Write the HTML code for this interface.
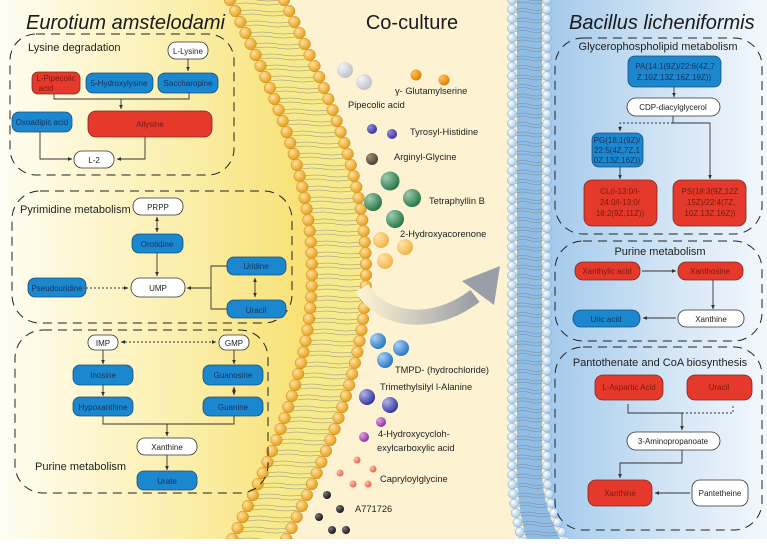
<!DOCTYPE html>
<html><head><meta charset="utf-8">
<style>
html,body{margin:0;padding:0;background:#fff;}
svg{display:block;font-family:"Liberation Sans",Arial,sans-serif;}
.bl{fill:#1a87cf;stroke:#1d4f78;stroke-width:0.8}
.rd{fill:#e5392c;stroke:#7c2a22;stroke-width:0.8}
.wh{fill:#fff;stroke:#333;stroke-width:0.8}
.tb{fill:#17325a;font-size:8px;text-anchor:middle}
.tr{fill:#7a1810;font-size:8px;text-anchor:middle}
.tw{fill:#222;font-size:8px;text-anchor:middle}
.ln{fill:none;stroke:#333;stroke-width:0.9}
.dl{fill:none;stroke:#333;stroke-width:0.9;stroke-dasharray:2 2}
.db{fill:none;stroke:#222;stroke-width:1;stroke-dasharray:9 6}
.lab{fill:#222;font-size:9.3px}
.sec{fill:#222;font-size:11px}
</style></head><body>
<svg id="s" width="767" height="544" viewBox="0 0 767 544" xmlns="http://www.w3.org/2000/svg">
<defs>
<linearGradient id="gl" x1="0" x2="1" y1="0" y2="0">
<stop offset="0" stop-color="#fffdf3"/><stop offset="0.55" stop-color="#fbf0b0"/><stop offset="1" stop-color="#f7e070"/></linearGradient>
<linearGradient id="gr" x1="0" x2="1" y1="0" y2="0">
<stop offset="0" stop-color="#a3c9ec"/><stop offset="0.6" stop-color="#d6e7f6"/><stop offset="1" stop-color="#f3f8fd"/></linearGradient>
<radialGradient id="ob" cx="0.35" cy="0.35" r="0.7"><stop offset="0" stop-color="#ffe2a0"/><stop offset="1" stop-color="#e59a14"/></radialGradient>
<radialGradient id="bb" cx="0.35" cy="0.35" r="0.7"><stop offset="0" stop-color="#ffffff"/><stop offset="1" stop-color="#9fc6ea"/></radialGradient>
<radialGradient id="g1" cx="0.3" cy="0.3" r="0.8"><stop offset="0" stop-color="#f4f5f7"/><stop offset="1" stop-color="#b9bcc4"/></radialGradient>
<radialGradient id="g2" cx="0.3" cy="0.3" r="0.8"><stop offset="0" stop-color="#ffc15a"/><stop offset="1" stop-color="#e07a00"/></radialGradient>
<radialGradient id="g3" cx="0.3" cy="0.3" r="0.8"><stop offset="0" stop-color="#8c8ad8"/><stop offset="1" stop-color="#3a2f9a"/></radialGradient>
<radialGradient id="g4" cx="0.3" cy="0.3" r="0.8"><stop offset="0" stop-color="#a08c78"/><stop offset="1" stop-color="#4a3a2c"/></radialGradient>
<radialGradient id="g5" cx="0.3" cy="0.3" r="0.8"><stop offset="0" stop-color="#9cccb0"/><stop offset="1" stop-color="#1f7040"/></radialGradient>
<radialGradient id="g6" cx="0.3" cy="0.3" r="0.8"><stop offset="0" stop-color="#ffe4a8"/><stop offset="1" stop-color="#f0b040"/></radialGradient>
<radialGradient id="g7" cx="0.3" cy="0.3" r="0.8"><stop offset="0" stop-color="#a8d0f4"/><stop offset="1" stop-color="#2070c0"/></radialGradient>
<radialGradient id="g8" cx="0.3" cy="0.3" r="0.8"><stop offset="0" stop-color="#b0b4f0"/><stop offset="1" stop-color="#2a2a90"/></radialGradient>
<radialGradient id="g9" cx="0.3" cy="0.3" r="0.8"><stop offset="0" stop-color="#e0a0e8"/><stop offset="1" stop-color="#8a2a9a"/></radialGradient>
<radialGradient id="g10" cx="0.3" cy="0.3" r="0.8"><stop offset="0" stop-color="#ffc0b0"/><stop offset="1" stop-color="#e85a40"/></radialGradient>
<radialGradient id="g11" cx="0.3" cy="0.3" r="0.8"><stop offset="0" stop-color="#777"/><stop offset="1" stop-color="#111"/></radialGradient>
<linearGradient id="ag" x1="0" x2="1" y1="0" y2="0"><stop offset="0" stop-color="#fdf3d3"/><stop offset="1" stop-color="#9a9ea6"/></linearGradient>
<marker id="a" viewBox="0 0 6 6" refX="5.5" refY="3" markerWidth="5" markerHeight="5" orient="auto-start-reverse"><path d="M0,0.5 L6,3 L0,5.5z" fill="#333"/></marker>
</defs>
<rect width="767" height="544" fill="#fdf3d3"/>
<path id="leftbg" d="" fill="url(#gl)"/>
<path id="memL" d="" fill="#f7ea8c"/>
<path id="rightbg" d="" fill="url(#gr)"/>
<path id="memR" d="" fill="#8fbde6"/>
<g id="beads"></g>
<rect y="539" width="767" height="5" fill="#fff"/>

<path d="M362,288 C380,320 430,330 475,296" fill="none" stroke="url(#ag)" stroke-width="15"/>
<path d="M462,281 L500,266 L494,305z" fill="#9a9ea6"/>

<text x="26" y="29" font-size="20" font-style="italic" fill="#1a1a1a">Eurotium amstelodami</text>
<text x="412" y="29" font-size="20" text-anchor="middle" fill="#1a1a1a">Co-culture</text>
<text x="569" y="29" font-size="20" font-style="italic" fill="#1a1a1a">Bacillus licheniformis</text>

<rect class="db" x="10" y="34" width="224" height="141" rx="26"/>
<text class="sec" x="28" y="51">Lysine degradation</text>
<rect class="wh" x="168" y="42" width="40" height="17" rx="8"/><text class="tw" x="188" y="54">L-Lysine</text>
<line class="ln" x1="188" y1="59" x2="188" y2="71" marker-end="url(#a)"/>
<rect class="rd" x="32" y="72" width="48" height="22" rx="6"/><text class="tr" x="56" y="81">L-Pipecolic</text><text class="tr" x="46" y="91">acid</text>
<rect class="bl" x="86" y="73" width="67" height="20" rx="7"/><text class="tb" x="119" y="86">5-Hydroxylysine</text>
<rect class="bl" x="158" y="73" width="60" height="20" rx="7"/><text class="tb" x="188" y="86">Saccharopine</text>
<path class="ln" d="M54,94 V99 H189 V93"/><line class="ln" x1="121" y1="99" x2="121" y2="109" marker-end="url(#a)"/>
<rect class="bl" x="12" y="112" width="60" height="20" rx="7"/><text class="tb" x="42" y="125">Oxoadipic acid</text>
<rect class="rd" x="88" y="111" width="124" height="26" rx="8"/><text class="tr" x="150" y="127" font-size="10">Allysine</text>
<rect class="wh" x="74" y="151" width="40" height="17" rx="8"/><text class="tw" x="94" y="163">L-2</text>
<path class="ln" d="M40,132 V159 H72" marker-end="url(#a)"/>
<path class="ln" d="M145,137 V159 H117" marker-end="url(#a)"/>

<rect class="db" x="12" y="191" width="280" height="132" rx="28"/>
<text class="sec" x="20" y="213">Pyrimidine metabolism</text>
<rect class="wh" x="133" y="198" width="50" height="17" rx="8"/><text class="tw" x="158" y="210">PRPP</text>
<line class="ln" x1="157" y1="217" x2="157" y2="232" marker-end="url(#a)" marker-start="url(#a)"/>
<rect class="bl" x="132" y="234" width="51" height="19" rx="7"/><text class="tb" x="157" y="247">Orotidine</text>
<line class="ln" x1="157" y1="253" x2="157" y2="276" marker-end="url(#a)"/>
<rect class="bl" x="227" y="257" width="59" height="18" rx="7"/><text class="tb" x="256" y="269">Uridine</text>
<rect class="bl" x="28" y="278" width="58" height="19" rx="7"/><text class="tb" x="57" y="291">Pseudouridine</text>
<rect class="wh" x="131" y="278" width="54" height="19" rx="9"/><text class="tw" x="158" y="291">UMP</text>
<rect class="bl" x="227" y="300" width="59" height="18" rx="7"/><text class="tb" x="256" y="313">Uracil</text>
<line class="dl" x1="86" y1="288" x2="128" y2="288" marker-end="url(#a)"/>
<path class="ln" d="M227,266 H211 V309 H227 M211,288 H188" />
<line class="ln" x1="188" y1="288" x2="187" y2="288" marker-end="url(#a)"/>
<line class="ln" x1="255" y1="278" x2="255" y2="297" marker-end="url(#a)" marker-start="url(#a)"/>

<rect class="db" x="15" y="330" width="253" height="163" rx="28"/>
<rect class="wh" x="88" y="335" width="30" height="15" rx="7"/><text class="tw" x="103" y="346">IMP</text>
<rect class="wh" x="219" y="335" width="30" height="15" rx="7"/><text class="tw" x="234" y="346">GMP</text>
<line class="dl" x1="121" y1="342" x2="216" y2="342" marker-end="url(#a)" marker-start="url(#a)"/>
<line class="ln" x1="103" y1="350" x2="103" y2="364" marker-end="url(#a)"/>
<line class="ln" x1="234" y1="350" x2="234" y2="364" marker-end="url(#a)"/>
<rect class="bl" x="73" y="365" width="60" height="20" rx="7"/><text class="tb" x="103" y="378">Inosine</text>
<rect class="bl" x="203" y="365" width="60" height="20" rx="7"/><text class="tb" x="233" y="378">Guanosine</text>
<line class="ln" x1="103" y1="385" x2="103" y2="396" marker-end="url(#a)"/>
<line class="ln" x1="234" y1="387" x2="234" y2="395" marker-end="url(#a)" marker-start="url(#a)"/>
<rect class="bl" x="73" y="397" width="60" height="19" rx="7"/><text class="tb" x="103" y="410">Hypoxanthine</text>
<rect class="bl" x="203" y="397" width="60" height="19" rx="7"/><text class="tb" x="233" y="410">Guanine</text>
<path class="ln" d="M103,416 V424 H234 V416"/>
<line class="ln" x1="167" y1="424" x2="167" y2="436" marker-end="url(#a)"/>
<rect class="wh" x="137" y="438" width="60" height="17" rx="8"/><text class="tw" x="167" y="450">Xanthine</text>
<line class="ln" x1="167" y1="455" x2="167" y2="470" marker-end="url(#a)"/>
<rect class="bl" x="137" y="471" width="60" height="19" rx="7"/><text class="tb" x="167" y="484">Urate</text>
<text class="sec" x="35" y="470">Purine metabolism</text>

<circle cx="345" cy="70" r="8" fill="url(#g1)"/><circle cx="364" cy="82" r="8" fill="url(#g1)"/>
<circle cx="416" cy="75" r="5.5" fill="url(#g2)"/><circle cx="444" cy="80" r="5.5" fill="url(#g2)"/>
<text class="lab" x="395" y="94">γ- Glutamylserine</text>
<text class="lab" x="348" y="108">Pipecolic acid</text>
<circle cx="372" cy="129" r="5" fill="url(#g3)"/><circle cx="392" cy="134" r="5" fill="url(#g3)"/>
<text class="lab" x="410" y="135">Tyrosyl-Histidine</text>
<circle cx="372" cy="159" r="6" fill="url(#g4)"/>
<text class="lab" x="394" y="160">Arginyl-Glycine</text>
<circle cx="390" cy="181" r="9.5" fill="url(#g5)"/><circle cx="373" cy="202" r="9" fill="url(#g5)"/><circle cx="412" cy="198" r="9" fill="url(#g5)"/><circle cx="395" cy="219" r="9" fill="url(#g5)"/>
<text class="lab" x="429" y="204">Tetraphyllin B</text>
<circle cx="381" cy="240" r="8" fill="url(#g6)"/><circle cx="405" cy="247" r="8" fill="url(#g6)"/><circle cx="385" cy="261" r="8" fill="url(#g6)"/>
<text class="lab" x="400" y="237">2-Hydroxyacorenone</text>
<circle cx="378" cy="341" r="8" fill="url(#g7)"/><circle cx="401" cy="348" r="8" fill="url(#g7)"/><circle cx="385" cy="360" r="8" fill="url(#g7)"/>
<text class="lab" x="395" y="373">TMPD- (hydrochloride)</text>
<text class="lab" x="380" y="390">Trimethylsilyl l-Alanine</text>
<circle cx="367" cy="397" r="8" fill="url(#g8)"/><circle cx="390" cy="405" r="8" fill="url(#g8)"/>
<circle cx="381" cy="422" r="5" fill="url(#g9)"/><circle cx="364" cy="437" r="5" fill="url(#g9)"/>
<text class="lab" x="378" y="437">4-Hydroxycycloh-</text>
<text class="lab" x="377" y="451">exylcarboxylic acid</text>
<circle cx="357" cy="460" r="3.5" fill="url(#g10)"/><circle cx="340" cy="473" r="3.5" fill="url(#g10)"/><circle cx="373" cy="469" r="3.5" fill="url(#g10)"/><circle cx="353" cy="484" r="3.5" fill="url(#g10)"/><circle cx="368" cy="484" r="3.5" fill="url(#g10)"/>
<text class="lab" x="380" y="482">Capryloylglycine</text>
<circle cx="327" cy="495" r="4" fill="url(#g11)"/><circle cx="340" cy="509" r="4" fill="url(#g11)"/><circle cx="319" cy="517" r="4" fill="url(#g11)"/><circle cx="332" cy="530" r="4" fill="url(#g11)"/><circle cx="346" cy="530" r="4" fill="url(#g11)"/>
<text class="lab" x="355" y="512">A771726</text>

<rect class="db" x="555" y="38" width="207" height="196" rx="28"/>
<text class="sec" x="658" y="50" text-anchor="middle">Glycerophospholipid metabolism</text>
<rect class="bl" x="628" y="56" width="93" height="31" rx="7"/><text class="tb" x="675" y="69">PA(14:1(9Z)/22:6(4Z,7</text><text class="tb" x="674" y="80">Z,10Z,13Z,16Z,19Z))</text>
<line class="ln" x1="674" y1="87" x2="674" y2="97" marker-end="url(#a)"/>
<rect class="wh" x="627" y="98" width="93" height="18" rx="9"/><text class="tw" x="673" y="110">CDP-diacylglycerol</text>
<path class="ln" d="M673,116 V123 H710 V179" marker-end="url(#a)"/>
<path class="dl" d="M673,123 H620 V131" marker-end="url(#a)"/>
<rect class="bl" x="592" y="133" width="51" height="34" rx="7"/><text class="tb" x="617" y="143">PG(18:1(9Z)/</text><text class="tb" x="617" y="153">22:5(4Z,7Z,1</text><text class="tb" x="617" y="163">0Z,13Z,16Z))</text>
<line class="ln" x1="620" y1="167" x2="620" y2="179" marker-end="url(#a)"/>
<rect class="rd" x="584" y="180" width="73" height="46" rx="8"/><text class="tr" x="620" y="194">CL(i-13:0/i-</text><text class="tr" x="620" y="205">24:0/i-13:0/</text><text class="tr" x="620" y="216">18:2(9Z,11Z))</text>
<rect class="rd" x="673" y="180" width="73" height="46" rx="8"/><text class="tr" x="710" y="194">PS(18:3(9Z,12Z</text><text class="tr" x="710" y="205">,15Z)/22:4(7Z,</text><text class="tr" x="710" y="216">10Z,13Z,16Z))</text>

<rect class="db" x="555" y="241" width="207" height="100" rx="28"/>
<text class="sec" x="660" y="255" text-anchor="middle">Purine metabolism</text>
<rect class="rd" x="575" y="262" width="65" height="18" rx="8"/><text class="tr" x="607" y="274">Xanthylic acid</text>
<rect class="rd" x="678" y="262" width="65" height="18" rx="8"/><text class="tr" x="710" y="274">Xanthosine</text>
<line class="ln" x1="642" y1="271" x2="676" y2="271" marker-end="url(#a)"/>
<line class="ln" x1="713" y1="280" x2="713" y2="309" marker-end="url(#a)"/>
<rect class="wh" x="678" y="310" width="66" height="17" rx="8"/><text class="tw" x="711" y="322">Xanthine</text>
<rect class="bl" x="573" y="310" width="67" height="17" rx="8"/><text class="tb" x="606" y="322">Uric acid</text>
<line class="ln" x1="676" y1="318" x2="643" y2="318" marker-end="url(#a)"/>

<rect class="db" x="555" y="347" width="207" height="183" rx="28"/>
<text class="sec" x="660" y="366" text-anchor="middle">Pantothenate and CoA biosynthesis</text>
<rect class="rd" x="595" y="375" width="68" height="25" rx="8"/><text class="tr" x="629" y="390">L-Aspartic Acid</text>
<rect class="rd" x="687" y="375" width="65" height="25" rx="8"/><text class="tr" x="719" y="390">Uracil</text>
<path class="ln" d="M628,404 V413 H682"/><path class="dl" d="M682,413 H733 V404"/>
<line class="ln" x1="682" y1="413" x2="682" y2="430" marker-end="url(#a)"/>
<rect class="wh" x="627" y="432" width="93" height="18" rx="9"/><text class="tw" x="673" y="444">3-Aminopropanoate</text>
<path class="ln" d="M682,450 V463 H620 V478" marker-end="url(#a)"/>
<rect class="rd" x="588" y="480" width="64" height="26" rx="8"/><text class="tr" x="620" y="496">Xanthine</text>
<rect class="wh" x="692" y="480" width="56" height="26" rx="8"/><text class="tw" x="720" y="496">Pantetheine</text>
<line class="ln" x1="690" y1="493" x2="655" y2="493" marker-end="url(#a)"/>
</svg>
<script>
(function(){
var NS="http://www.w3.org/2000/svg";
function xi(y){return 230+82*Math.sin(Math.PI*y/544);}
function xo(y){return xi(y)+54;}
var d="M0,0 ";
for(var y=0;y<=544;y+=8)d+="L"+xi(y).toFixed(1)+","+y+" ";
d+="L0,544Z";document.getElementById("leftbg").setAttribute("d",d);
var m="M"+xi(0)+",0 ";
for(y=0;y<=544;y+=8)m+="L"+xi(y).toFixed(1)+","+y+" ";
for(y=544;y>=0;y-=8)m+="L"+xo(y).toFixed(1)+","+y+" ";
m+="Z";document.getElementById("memL").setAttribute("d",m);
function ro(y){return y<470?512:512+ (y-470)*(y-470)/500;}
function ri(y){return y<470?547:547+(y-470)*(y-470)/260;}
var r="M"+ri(0)+",0 ";
for(y=0;y<=544;y+=8)r+="L"+ri(y).toFixed(1)+","+y+" ";
r+="L767,544 L767,0Z";document.getElementById("rightbg").setAttribute("d",r);
var mr="M"+(ro(0)+5)+",0 ";
for(y=0;y<=544;y+=8)mr+="L"+(ro(y)+5).toFixed(1)+","+y+" ";
for(y=544;y>=0;y-=8)mr+="L"+(ri(y)-5).toFixed(1)+","+y+" ";
mr+="Z";document.getElementById("memR").setAttribute("d",mr);
var g=document.getElementById("beads");
function c(x,y,rr,f){var e=document.createElementNS(NS,"circle");e.setAttribute("cx",x);e.setAttribute("cy",y);e.setAttribute("r",rr);e.setAttribute("fill",f);e.setAttribute("stroke",f=="url(#ob)"?"#d08a10":"#7fa9d0");e.setAttribute("stroke-width","0.5");g.appendChild(e);}
function l(x1,y1,x2,y2){var p=document.createElementNS(NS,"path");var mx=(x1+x2)/2;p.setAttribute("d","M"+x1+","+y1+" Q"+(x1+(x2-x1)/4)+","+(y1-2)+" "+mx+","+((y1+y2)/2)+" T"+x2+","+y2);p.setAttribute("fill","none");p.setAttribute("stroke","#777");p.setAttribute("stroke-width","0.4");g.appendChild(p);}
for(y=0;y<=544;y+=11){var a=xi(y),b=xo(y);l(a+5,y,b-5,y);l(a+5,y+4,b-5,y+4);c(a,y,5.8,"url(#ob)");c(b,y,5.8,"url(#ob)");}
for(y=0;y<=544;y+=9.5){var a2=ro(y),b2=ri(y);l(a2+4,y,b2-4,y);l(a2+4,y+3,b2-4,y+3);c(a2,y,4.6,"url(#bb)");c(b2,y,4.6,"url(#bb)");}
})();
</script>
</body></html>
